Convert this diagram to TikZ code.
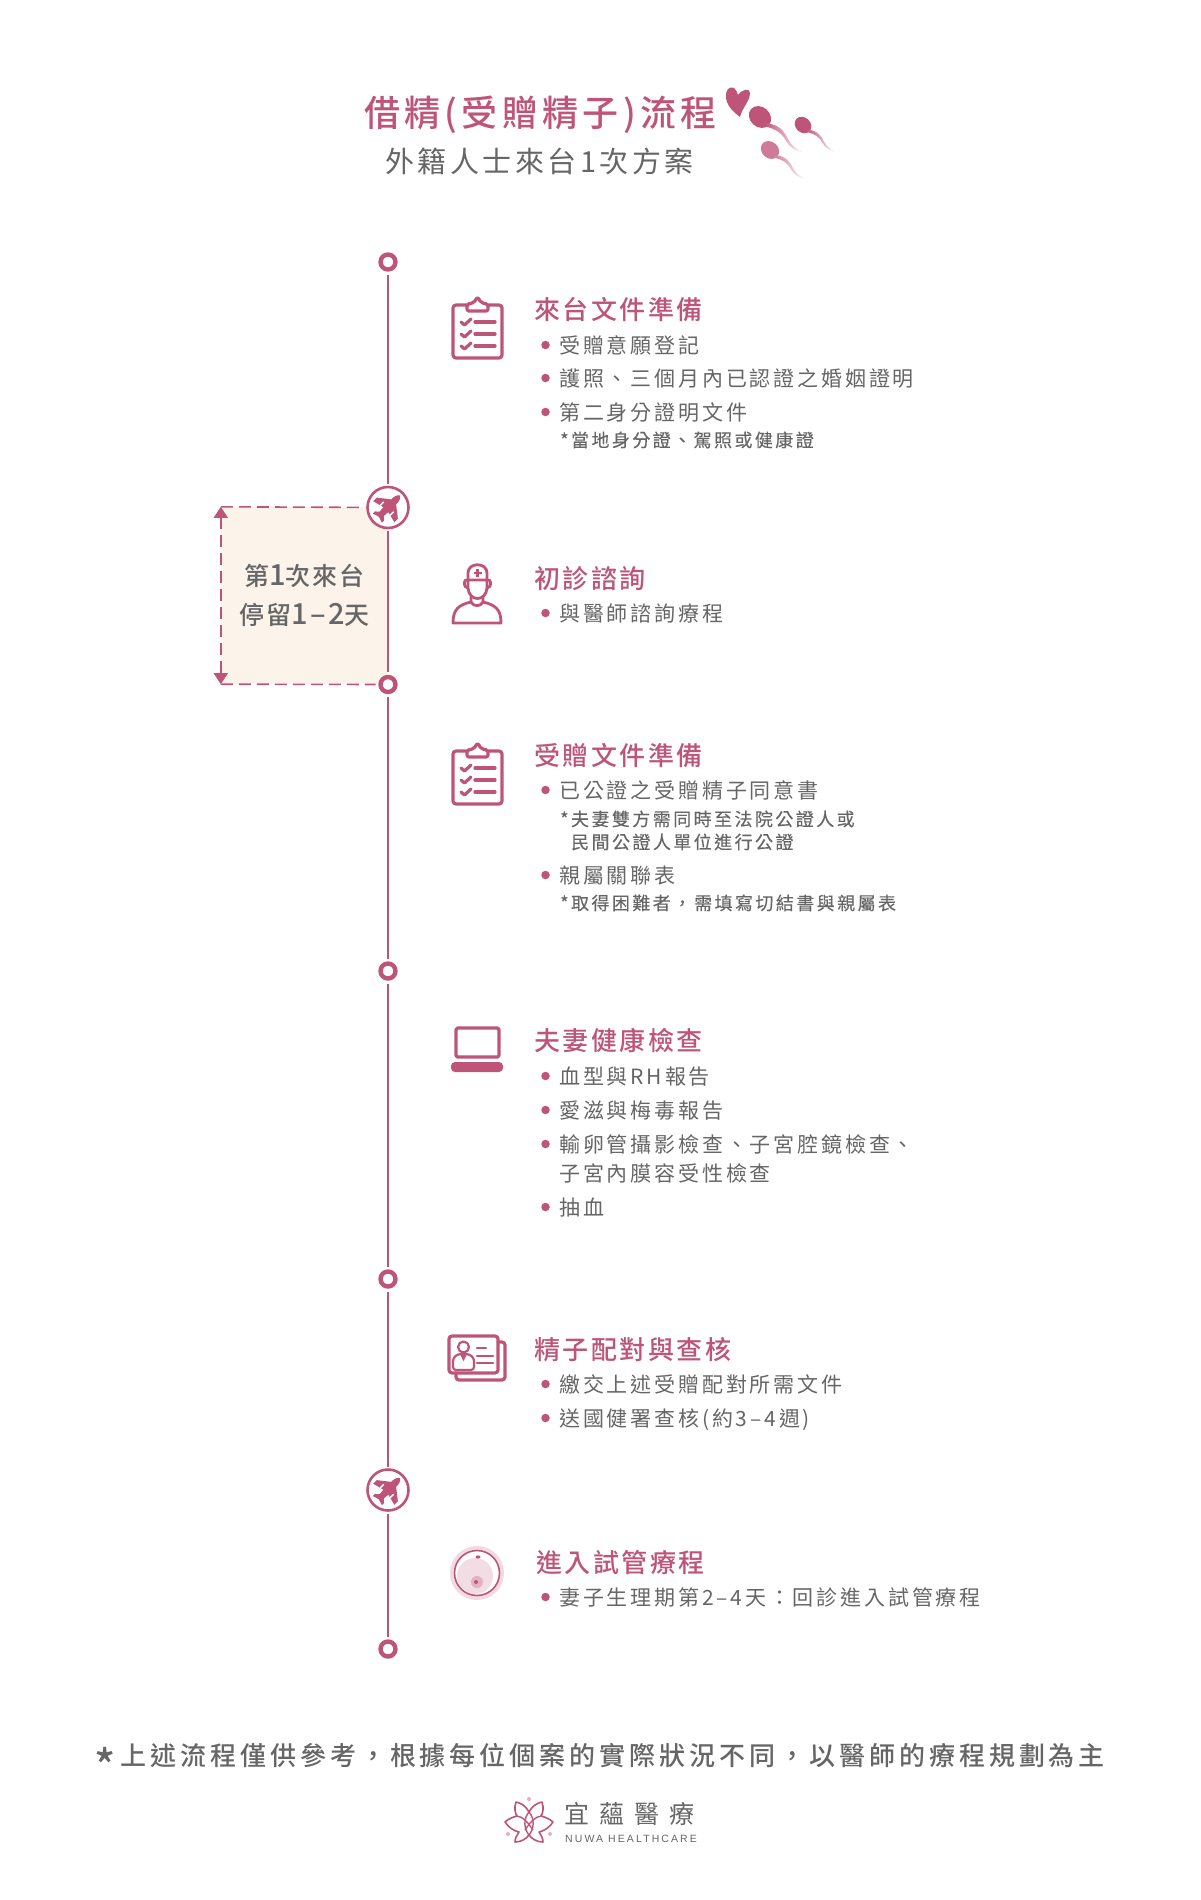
\documentclass[tikz,border=0pt]{standalone}
\usepackage{fontspec}
\usepackage{xcolor}
\usetikzlibrary{arrows.meta}
\setmainfont{Noto Sans CJK TC}
\newfontfamily\titlefont[LetterSpace=12]{Noto Sans CJK TC Medium}
\newfontfamily\subfont[LetterSpace=12]{Noto Sans CJK TC}
\newfontfamily\headfont[LetterSpace=9.5]{Noto Sans CJK TC Medium}
\newfontfamily\itemfont[LetterSpace=13.5]{Noto Sans CJK TC}
\newfontfamily\notefont[LetterSpace=13.5,FakeBold=0.2]{Noto Sans CJK TC}
\newfontfamily\stayfont[LetterSpace=8]{Noto Sans CJK TC Medium}
\newfontfamily\footfont[LetterSpace=15.2]{Noto Sans CJK TC Medium}
\newfontfamily\logofont[LetterSpace=41]{Noto Sans CJK TC}
\newfontfamily\enfont[LetterSpace=20]{Liberation Sans}
\newcommand{\staynum}[1]{{\fontsize{29}{39}\selectfont #1}}
\definecolor{nuwapink}{HTML}{BE5578}
\definecolor{spermpale}{HTML}{CE7B97}
\definecolor{textgray}{HTML}{666666}
\definecolor{stayfill}{HTML}{FCF3EB}
\tikzset{
    spine/.style={nuwapink, line width=2.6pt},
    ringdot/.style={circle, draw=nuwapink, fill=white, line width=4.4pt, minimum size=15pt, inner sep=0pt, outer sep=5pt},
    planedot/.style={circle, draw=nuwapink, fill=white, line width=2.6pt, minimum size=41pt, inner sep=0pt, outer sep=3pt},
    dashline/.style={nuwapink, line width=1.6pt, dash pattern=on 12pt off 6pt},
    bulletdot/.style={circle, fill=nuwapink, minimum size=8.5pt, inner sep=0pt},
    headtext/.style={anchor=west, inner sep=0pt, text=nuwapink, text height=24.5pt, text depth=3.1pt, font=\headfont\fontsize{26}{30}\selectfont},
    itemtext/.style={anchor=west, inner sep=0pt, text=textgray, text height=18.5pt, text depth=2.5pt, font=\itemfont\fontsize{21}{24}\selectfont},
    notetext/.style={anchor=west, inner sep=0pt, text=textgray, text height=15.8pt, text depth=2.2pt, font=\notefont\fontsize{18}{20}\selectfont},
    iconline/.style={nuwapink, line width=3.2pt, line cap=round, line join=round},
    clipicon/.pic={
        \draw[iconline, rounded corners=3pt] (-24.5,-23) rectangle (24.5,30);
        \draw[iconline, fill=white, rounded corners=2pt] (-10.5,-17) -- (-10.5,-24) -- (-4,-25) -- (0,-31) -- (4,-25) -- (10.5,-24) -- (10.5,-17) -- cycle;
        \foreach \ly in {-6,6,18} {
            \draw[iconline] (-2.5,\ly) -- (17.5,\ly);
            \draw[iconline] (-16.5,\ly) -- (-13,{\ly+3}) -- (-6.5,{\ly-3});
        }
    },
    planeicon/.pic={
        \fill[nuwapink, rotate=-45] (0,-17) .. controls (3,-15) and (3.5,-12) .. (3.5,-8) -- (15,1) -- (15,6) -- (3.5,3) -- (3,9) -- (6.5,12) -- (6.5,15) -- (0,13) -- (-6.5,15) -- (-6.5,12) -- (-3,9) -- (-3.5,3) -- (-15,6) -- (-15,1) -- (-3.5,-8) .. controls (-3.5,-12) and (-3,-15) .. (0,-17) -- cycle;
        \draw[white, line width=1.4pt, rotate=-45] (-7,-1) -- (-7,4) (7,-1) -- (7,4);
    },
    spermicon/.pic={
        \fill[rotate=-42, #1] (0,0) ellipse (12 and 10);
        \shade[left color=#1, right color=white] (6,6) .. controls (20,8) and (24,14) .. (28,22) .. controls (31,28) and (37,33) .. (44,36) .. controls (36,34) and (29,30) .. (26,24) .. controls (22,16) and (16,12) .. (4,9) -- cycle;
    },
}
\begin{document}
\begin{tikzpicture}[x=1pt, y=-1pt]
    \useasboundingbox (0,0) rectangle (1200,1900);
    \fill[white] (0,0) rectangle (1200,1900);

    % Title
    \node[anchor=west, inner sep=0pt, text=nuwapink, font=\titlefont\fontsize{36}{40}\selectfont] (title) at (364,114.5) {借精(受贈精子)流程};
    \node[anchor=west, inner sep=0pt, text=textgray, font=\subfont\fontsize{29}{32}\selectfont] (subtitle) at (385,161) {外籍人士來台1次方案};

    % Heart and sperm
    \fill[nuwapink] (740,117) .. controls (733,112) and (725,104) .. (726,95) .. controls (726,87) and (735,83) .. (738,95) .. controls (741,90) and (750,87) .. (750,93) .. controls (750,101) and (742,108) .. (740,117) -- cycle;
    \pic[scale=1] at (760,117) {spermicon=nuwapink};
    \pic[scale=.75] at (803,125) {spermicon=nuwapink};
    \pic[scale=.82] at (770,150) {spermicon=spermpale};

    % Stay box
    \node[fill=stayfill, minimum width=167pt, minimum height=177pt, inner sep=0pt, align=center, text=textgray, font=\stayfont\fontsize{25}{39}\selectfont] (staybox) at (304.5,595.5) {第\staynum{1}次來台\\停留\staynum{1–2}天};

    % Timeline
    \node[ringdot] (r1) at (388,262) {};
    \node[planedot] (p1) at (388,507.5) {};
    \node[ringdot] (r2) at (388,684.5) {};
    \node[ringdot] (r3) at (388,971) {};
    \node[ringdot] (r4) at (388,1279) {};
    \node[planedot] (p2) at (388,1490) {};
    \node[ringdot] (r5) at (388,1649) {};
    \foreach \from/\to in {r1/p1, p1/r2, r2/r3, r3/r4, r4/p2, p2/r5} {
        \draw[spine] (\from) -- (\to);
    }
    \pic at (p1) {planeicon};
    \pic at (p2) {planeicon};

    % Stay box edges
    \draw[dashline] (staybox.north west) -- (p1);
    \draw[dashline] (staybox.south west) -- (r2);
    \draw[dashline, {Triangle[width=14pt,length=11pt]}-{Triangle[width=14pt,length=11pt]}] (staybox.north west) -- (staybox.south west);

    % Section 1
    \pic at (477.5,328) {clipicon};
    \node[headtext] (h1) at (534,309) {來台文件準備};
    \foreach \txt/\y in {受贈意願登記/345, 護照、三個月內已認證之婚姻證明/378, 第二身分證明文件/412} {
        \node[bulletdot] (b\y) at (545.5,\y) {};
        \node[itemtext] (t\y) at (559,\y) {\txt};
    }
    \node[notetext] (n1) at (560,440) {*當地身分證、駕照或健康證};

    % Section 2
    \draw[iconline, line width=2.8pt] (468,580) -- (468,573) .. controls (468,562) and (487,562) .. (487,573) -- (487,580) -- cycle;
    \draw[iconline, line width=2.8pt] (468,580) -- (468,588) .. controls (469,602) and (486,602) .. (487,588) -- (487,580);
    \draw[iconline, line width=2.8pt] (468,580) .. controls (463,578) and (463,588) .. (468,588);
    \draw[iconline, line width=2.8pt] (487,580) .. controls (492,578) and (492,588) .. (487,588);
    \draw[iconline, line width=2.8pt] (471,597) -- (471,602) .. controls (458,605) and (453,610) .. (453,623) -- (501,623) .. controls (501,610) and (496,605) .. (483,602) -- (483,597);
    \draw[iconline, line width=2.8pt] (471,602) .. controls (474,607) and (480,607) .. (483,602);
    \draw[nuwapink, line width=2.8pt] (477.5,569) -- (477.5,577) (473.5,573) -- (481.5,573);
    \node[headtext] (h2) at (534,578) {初診諮詢};
    \node[bulletdot] (b613) at (545.5,613) {};
    \node[itemtext] (t613) at (559,613) {與醫師諮詢療程};

    % Section 3
    \pic at (477.5,774) {clipicon};
    \node[headtext] (h3) at (534,755) {受贈文件準備};
    \foreach \txt/\y in {已公證之受贈精子同意書/790, 親屬關聯表/875} {
        \node[bulletdot] (b\y) at (545.5,\y) {};
        \node[itemtext] (t\y) at (559,\y) {\txt};
    }
    \node[notetext] (n2) at (560,819) {*夫妻雙方需同時至法院公證人或};
    \node[notetext] (n3) at (571,842) {民間公證人單位進行公證};
    \node[notetext] (n4) at (560,903) {*取得困難者，\kern3pt 需填寫切結書與親屬表\kern0pt};

    % Section 4
    \draw[iconline, rounded corners=1.5pt] (456,1028) rectangle (499,1057);
    \fill[nuwapink, rounded corners=4pt] (451,1062) rectangle (503,1072);
    \node[headtext] (h4) at (534,1040) {夫妻健康檢查};
    \foreach \txt/\y in {血型與RH報告/1076, 愛滋與梅毒報告/1110, 輸卵管攝影檢查、子宮腔鏡檢查、/1144, 抽血/1207} {
        \node[bulletdot] (b\y) at (545.5,\y) {};
        \node[itemtext] (t\y) at (559,\y) {\txt};
    }
    \node[itemtext] (t1173) at (559,1173) {子宮內膜容受性檢查};

    % Section 5
    \draw[iconline, rounded corners=3pt] (498,1342) -- (505,1342) -- (505,1380) -- (456,1380) -- (456,1373);
    \draw[iconline, rounded corners=3pt] (449,1336) rectangle (498,1373);
    \draw[iconline, line width=2.2pt] (463.5,1347) circle (5.5);
    \draw[iconline, line width=2.2pt, rounded corners=3pt] (453,1370) -- (453,1358) -- (458,1354) -- (469,1354) -- (474,1358) -- (474,1370) -- cycle;
    \fill[nuwapink] (460,1354) -- (467,1354) -- (463.5,1361) -- cycle;
    \draw[iconline, line width=2.2pt] (477,1348) -- (486,1348) (477,1356) -- (493,1356) (477,1363) -- (493,1363);
    \node[headtext] (h5) at (534,1349) {精子配對與查核};
    \foreach \txt/\y in {繳交上述受贈配對所需文件/1384, 送國健署查核(約3–4週)/1418} {
        \node[bulletdot] (b\y) at (545.5,\y) {};
        \node[itemtext] (t\y) at (559,\y) {\txt};
    }

    % Section 6
    \fill[nuwapink!22] (477,1573) circle (27);
    \draw[nuwapink, line width=1.6pt, fill=white] (477,1573) circle (22.5);
    \fill[nuwapink!20] (475,1576) circle (18);
    \fill[nuwapink!45] (477,1582) circle (6);
    \fill[nuwapink] (476,1582) circle (2);
    \fill[nuwapink] (478,1557) ellipse (2.5 and 1.6);
    \node[headtext] (h6) at (536,1562) {進入試管療程};
    \node[bulletdot] (b1597) at (545.5,1597) {};
    \node[itemtext] (t1597) at (559,1597) {妻子生理期第2–4天：回診進入試管療程};

    % Footer
    \node[anchor=west, inner sep=0pt, text=textgray, text height=22.9pt, text depth=3.1pt, font=\footfont\fontsize{26}{30}\selectfont] (foot) at (94,1756) {\smash{\raisebox{-17pt}{\fontsize{44}{44}\selectfont *}}\kern5pt 上述流程僅供參考，根據每位個案的實際狀況不同，以醫師的療程規劃為主};

    % Logo
    \begin{scope}[shift={(529,1822)}]
        \foreach \side in {1,-1} {
            \draw[nuwapink, line width=1.6pt, line join=round, xscale=\side] (0,-10) .. controls (3,-16) and (8,-19) .. (13,-20) .. controls (15,-14) and (14,-9) .. (12,-6) .. controls (16,-5) and (21,-3) .. (24,0) .. controls (21,5) and (15,9) .. (10,10) .. controls (12,13) and (14,16) .. (14,20) .. controls (8,20) and (3,17) .. (0,13);
            \draw[nuwapink, line width=1.4pt, xscale=\side] (0,-10) .. controls (6,-3) and (5,7) .. (0,13);
            \draw[nuwapink, line width=1.4pt, xscale=\side] (12,-6) .. controls (6,-5) and (2,-1) .. (-4,8);
        }
        \foreach \dx/\dy in {0/-23, -21/12, 21/12} {
            \fill[nuwapink!45] (\dx,\dy) circle (2);
        }
    \end{scope}
    \node[anchor=west, inner sep=0pt, text=textgray, font=\logofont\fontsize{25}{30}\selectfont] (logocn) at (564,1814) {宜蘊醫療};
    \node[anchor=west, inner sep=0pt, text=textgray, font=\enfont\fontsize{10.5}{12}\selectfont] (logoen) at (565,1839) {NUWA HEALTHCARE};
\end{tikzpicture}
\end{document}
